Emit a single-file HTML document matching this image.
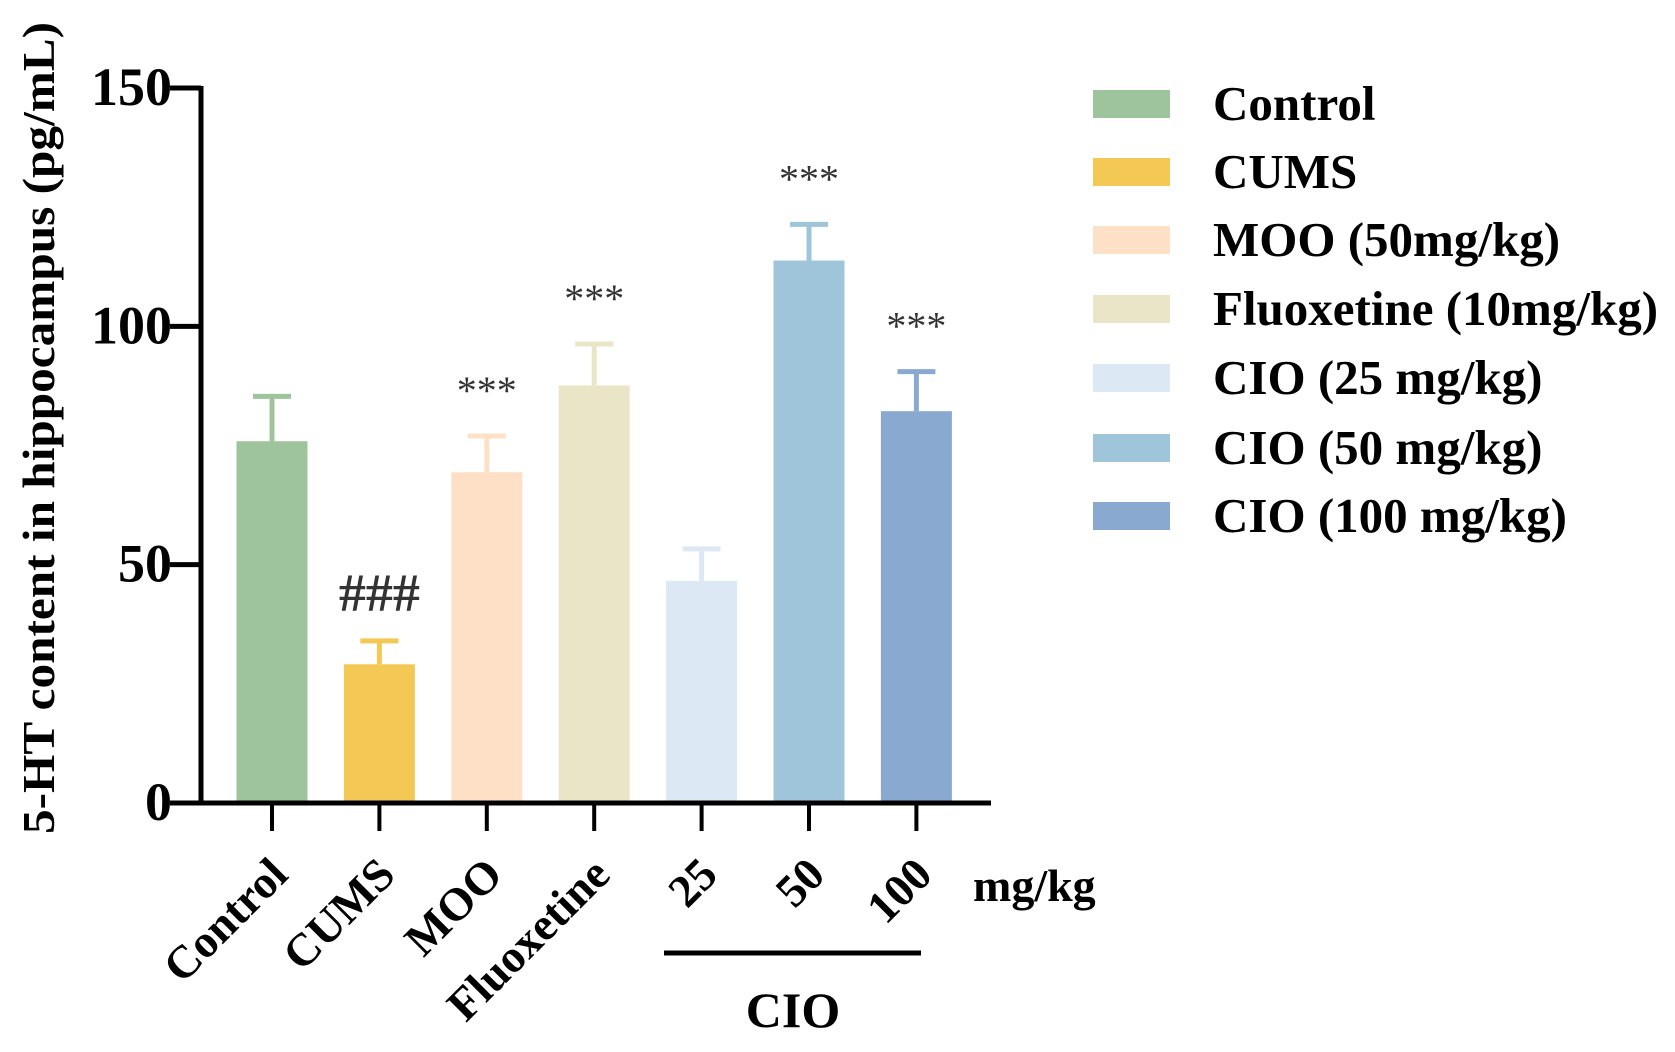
<!DOCTYPE html>
<html><head><meta charset="utf-8"><style>
html,body{margin:0;padding:0;background:#fff;}
svg{display:block;font-family:"Liberation Serif",serif;font-weight:bold;}
</style></head><body>
<svg id="chart" width="1675" height="1052" viewBox="0 0 1675 1052"></svg>
<script>
const categories=["Control","CUMS","MOO","Fluoxetine","25","50","100"];
const means=[75.9,29.1,69.4,87.6,46.6,113.8,82.2];
const errors=[9.4,4.9,7.6,8.7,6.7,7.6,8.3];
const marks=["","###","***","***","","***","***"];
const yTicks=[0,50,100,150];
const legendLabels=["Control","CUMS","MOO (50mg/kg)","Fluoxetine (10mg/kg)","CIO (25 mg/kg)","CIO (50 mg/kg)","CIO (100 mg/kg)"];
const colors=["#9dc49b","#f4c855","#fde0c5","#ebe5c8","#dce8f4","#9ec5da","#8aa9d1"];

const NS="http://www.w3.org/2000/svg";
const svg=document.getElementById('chart');
function mk(t,a,txt){const e=document.createElementNS(NS,t);for(const k in a)e.setAttribute(k,a[k]);if(txt!==undefined)e.textContent=txt;svg.appendChild(e);return e;}
const y0=803,yTop=88,yMax=150;
function Y(v){return y0-(v/yMax)*(y0-yTop);}
const x0=272,step=107.4;
function X(i){return x0+i*step;}
const bw=71;

categories.forEach((c,i)=>{
  const cx=X(i);
  let r=mk('rect',{x:cx-bw/2,y:Y(means[i]),width:bw,height:y0-Y(means[i]),fill:colors[i]});
  
  
  let l=mk('line',{x1:cx,x2:cx,y1:Y(means[i]),y2:Y(means[i]+errors[i]),stroke:colors[i],'stroke-width':5});
  
  
  let cap=mk('line',{x1:cx-19,x2:cx+19,y1:Y(means[i]+errors[i]),y2:Y(means[i]+errors[i]),stroke:colors[i],'stroke-width':5});
  
  
  if(marks[i]){
    const isHash=marks[i][0]==='#';
    let t=mk('text',{x:cx,y:isHash?Y(means[i]+errors[i])-30:Y(means[i]+errors[i])-32,'text-anchor':'middle','font-size':isHash?54:40,fill:'#333','font-weight':isHash?'bold':'normal'},marks[i]);
    
    
  }
  let tk=mk('line',{x1:cx,x2:cx,y1:y0,y2:y0+28,stroke:'#000','stroke-width':4});
  
  
  let lb=mk('text',{x:0,y:0,'text-anchor':'end','font-size':46,fill:'#000',transform:`translate(${cx+18},${y0+74}) rotate(-45)`},c);
  
  
});

let ya=mk('line',{x1:201,x2:201,y1:yTop-2,y2:y0+2,stroke:'#000','stroke-width':5});


let xa=mk('line',{x1:170,x2:991,y1:y0,y2:y0,stroke:'#000','stroke-width':5});


yTicks.forEach(v=>{
  let t=mk('line',{x1:170,x2:201,y1:Y(v),y2:Y(v),stroke:'#000','stroke-width':5});
  
  
  let l=mk('text',{x:172,y:Y(v)+17,'text-anchor':'end','font-size':54,fill:'#000'},String(v));
  
  
});
</script>
<script>
(function(){
const svg=document.getElementById('chart');const NS="http://www.w3.org/2000/svg";
function mk(t,a,txt){const e=document.createElementNS(NS,t);for(const k in a)e.setAttribute(k,a[k]);if(txt!==undefined)e.textContent=txt;svg.appendChild(e);return e;}
let yt=mk('text',{x:0,y:0,'text-anchor':'middle','font-size':46,'textLength':812,'lengthAdjust':'spacingAndGlyphs',fill:'#000',transform:'translate(54,428) rotate(-90)'},'5-HT content in hippocampus (pg/mL)');


let u=mk('text',{x:973,y:901,'font-size':46,fill:'#000'},'mg/kg');


let gl=mk('line',{x1:664,x2:921,y1:953,y2:953,stroke:'#000','stroke-width':5});


let gt=mk('text',{x:793,y:1027,'text-anchor':'middle','font-size':50,fill:'#000'},'CIO');


const rowsY=[104,172,240,309,378,448,516];
legendLabels.forEach((lab,i)=>{
  let s=mk('rect',{x:1093,y:rowsY[i]-14,width:77,height:28,fill:colors[i]});
  
  
  let t=mk('text',{x:1213,y:rowsY[i]+16,'font-size':49,fill:'#000'},lab);
  
  
});
})();
</script>
</body></html>
